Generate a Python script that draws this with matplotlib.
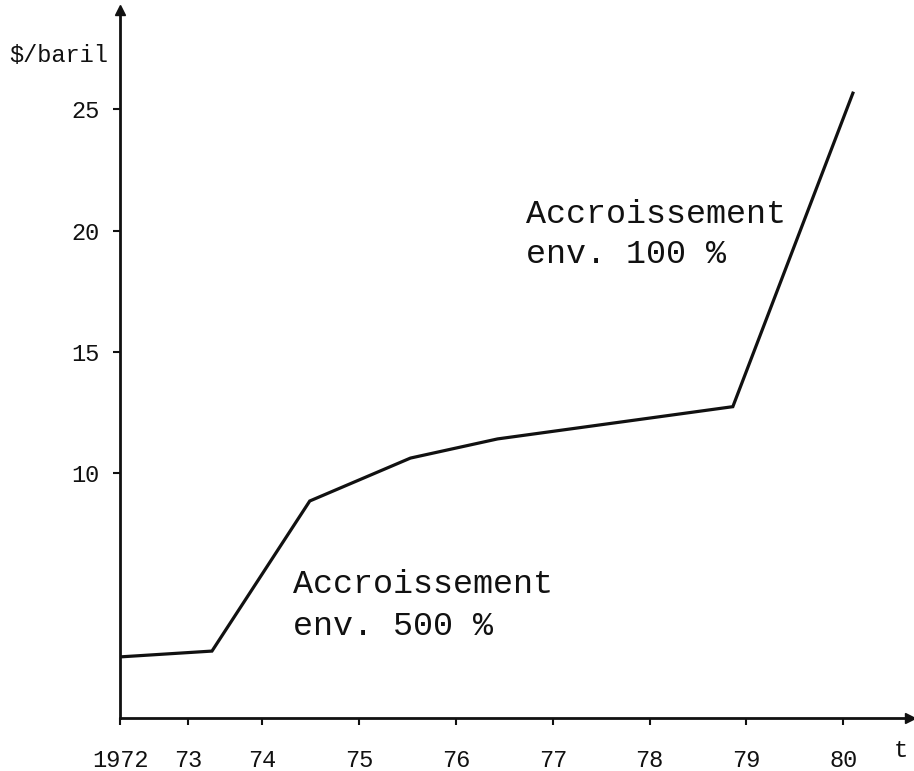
import matplotlib
matplotlib.use("Agg")
import matplotlib.pyplot as plt

# prix du petrole ($/baril)
years = [1972.53, 1973.48, 1974.49, 1975.53, 1976.43, 1978.86, 1980.10]
prices = [2.42, 2.66, 8.85, 10.62, 11.41, 12.74, 25.67]

xtick_pos = [1972.53, 1973.23, 1974, 1975, 1976, 1977, 1978, 1979, 1980]
xtick_labels = ["1972", "73", "74", "75", "76", "77", "78", "79", "80"]
ytick_pos = [10, 15, 20, 25]
ytick_labels = ["10", "15", "20", "25"]

mono = "Liberation Mono"
ink = "#111111"

fig = plt.figure(figsize=(9.14, 7.71), dpi=100)
W, H = 914, 771
ax = fig.add_axes([120 / W, (H - 718) / H, (910 - 120) / W, (718 - 10) / H])
ax.set_xlim(1972.53, 1980.69)
ax.set_ylim(-0.1, 29.1)

ax.plot(years, prices, color=ink, linewidth=2.3, solid_joinstyle="miter")

# axes style machine a ecrire
for side in ["top", "right"]:
    ax.spines[side].set_visible(False)
for side in ["left", "bottom"]:
    ax.spines[side].set_linewidth(2.0)
    ax.spines[side].set_color(ink)
ax.plot(1, 0, ">", color=ink, markersize=7, transform=ax.transAxes, clip_on=False)
ax.plot(0, 1, "^", color=ink, markersize=7, transform=ax.transAxes, clip_on=False)

ax.set_xticks(xtick_pos)
ax.set_xticklabels(xtick_labels, fontfamily=mono, fontsize=17, color=ink)
ax.set_yticks(ytick_pos)
ax.set_yticklabels(ytick_labels, fontfamily=mono, fontsize=17, color=ink)
ax.tick_params(axis="x", direction="out", length=5, width=1.5, pad=17, colors=ink)
ax.tick_params(axis="y", direction="out", length=5, width=1.5, pad=10, colors=ink)

ax.text(-0.015, 27.24, "$/baril", transform=ax.get_yaxis_transform(),
        ha="right", va="center", fontfamily=mono, fontsize=17, color=ink, clip_on=False)
ax.text(1980.59, -1.7, "t", ha="center", va="baseline",
        fontfamily=mono, fontsize=17, color=ink, clip_on=False)

# annotations
ax.text(1974.32, 5.05, "Accroissement", ha="left", va="baseline",
        fontfamily=mono, fontsize=24, color=ink)
ax.text(1974.32, 3.32, "env. 500 %", ha="left", va="baseline",
        fontfamily=mono, fontsize=24, color=ink)
ax.text(1976.72, 20.31, "Accroissement", ha="left", va="baseline",
        fontfamily=mono, fontsize=24, color=ink)
ax.text(1976.72, 18.66, "env. 100 %", ha="left", va="baseline",
        fontfamily=mono, fontsize=24, color=ink)

fig.savefig("out.png", dpi=100, facecolor="white")
